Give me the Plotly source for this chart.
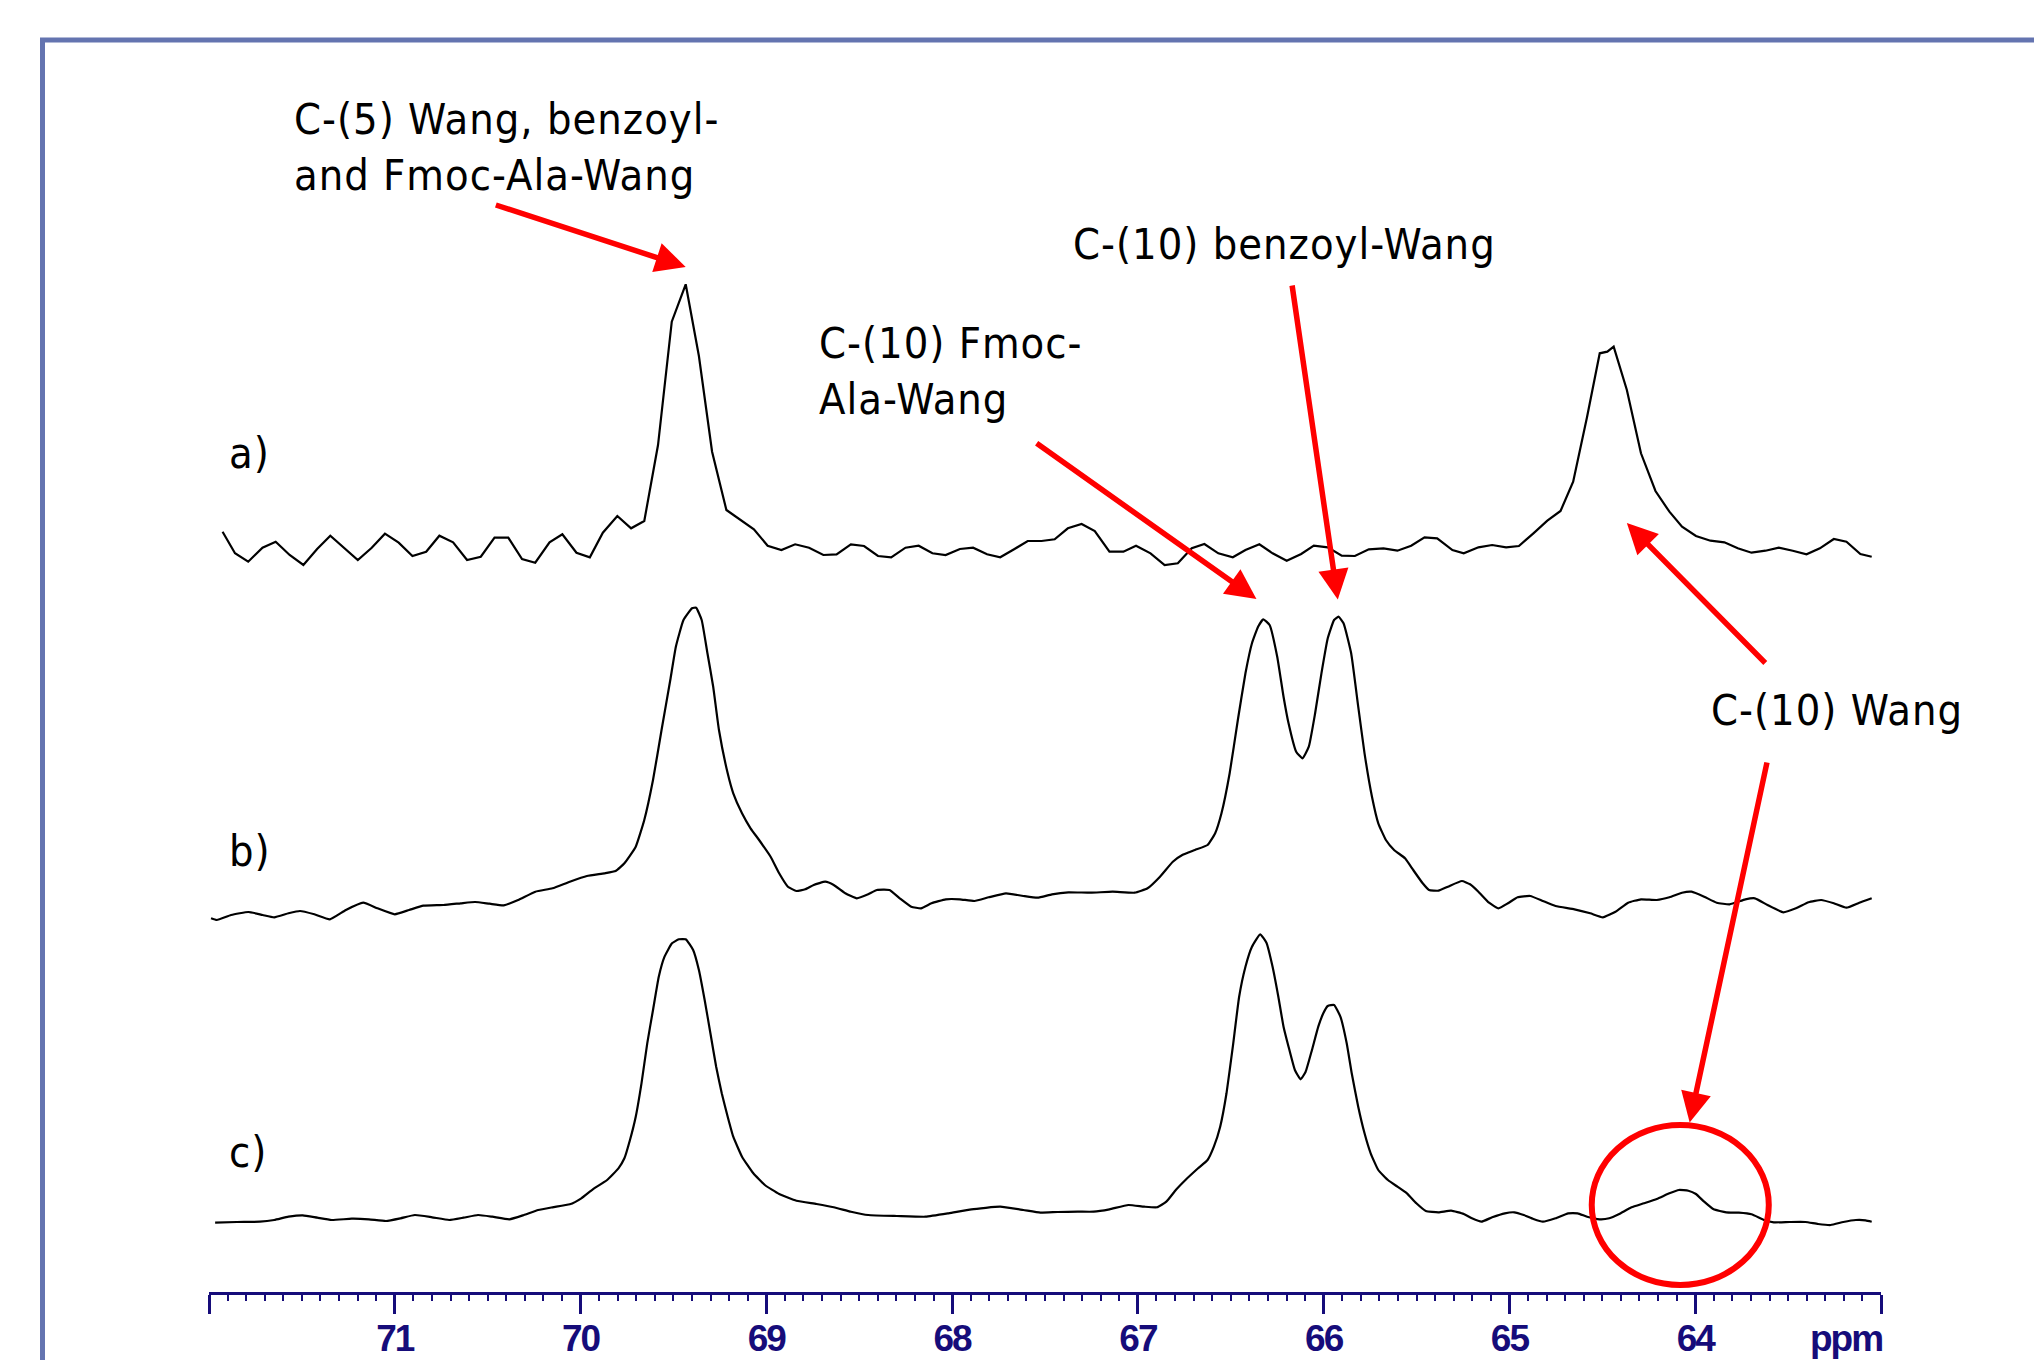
import plotly.graph_objects as go

# ---------------- data ----------------
ppm_a = [71.927, 71.860, 71.789, 71.712, 71.641, 71.566, 71.492, 71.418, 71.347, 71.273,
         71.199, 71.124, 71.053, 70.979, 70.905, 70.831, 70.760, 70.686, 70.611, 70.537,
         70.463, 70.389, 70.315, 70.244, 70.167, 70.098, 70.022, 69.950, 69.880, 69.802,
         69.728, 69.657, 69.583, 69.509, 69.434, 69.363, 69.292, 69.215, 69.141, 69.067,
         68.993, 68.919, 68.845, 68.770, 68.693, 68.622, 68.545, 68.474, 68.399, 68.328,
         68.251, 68.180, 68.106, 68.035, 67.958, 67.887, 67.812, 67.741, 67.664, 67.593,
         67.519, 67.448, 67.377, 67.303, 67.232, 67.153, 67.078, 67.010, 66.932, 66.856,
         66.785, 66.710, 66.642, 66.567, 66.489, 66.421, 66.346, 66.275, 66.199, 66.121,
         66.053, 65.978, 65.903, 65.832, 65.757, 65.678, 65.603, 65.529, 65.457, 65.389,
         65.307, 65.246, 65.167, 65.093, 65.018, 64.949, 64.871, 64.796, 64.725, 64.657,
         64.582, 64.514, 64.473, 64.439, 64.368, 64.292, 64.214, 64.139, 64.071, 63.996,
         63.918, 63.843, 63.771, 63.697, 63.622, 63.550, 63.475, 63.401, 63.329, 63.254,
         63.186, 63.111, 63.050]
int_a = [18.3, -3.3, -11.7, 2.3, 8.3, -5, -15, 1, 14.3, 1.7,
         -10, 2.3, 16.3, 7.3, -6, -1.7, 14.3, 7.7, -10, -6.7,
         12.3, 12.3, -9, -12.7, 7.7, 15.7, -2.7, -7.3, 17.3, 34,
         21.7, 29, 105, 228.3, 265.7, 194, 98.3, 40, 30, 20.7,
         4.3, 0, 5.7, 2.3, -5, -4.3, 5.7, 4, -6, -7.3,
         2.3, 4.3, -3.3, -5, 1, 2.3, -4.3, -7.3, 1, 9,
         9, 10.7, 21.7, 26, 19, -1.7, -1.7, 4.3, -3.3, -15,
         -13.3, 1.7, 6, -3.3, -7.3, 0, 5.7, -3.3, -10.7, -4,
         4.3, 2.7, -5.7, -6, 0.7, 1.7, -0.7, 4.3, 12.7, 11.7,
         0, -3.3, 2.7, 5, 2.7, 4, 16.7, 29.3, 39, 68.3,
         133.3, 196.7, 198.3, 203.3, 160, 96.7, 59, 38.3, 23.3, 14,
         9.3, 7.7, 1.7, -2.7, -0.7, 2.3, -0.7, -4.3, 1.7, 11,
         8.3, -4, -6.7]

ppm_b = [71.989, 71.958, 71.881, 71.788, 71.711, 71.649, 71.572, 71.510, 71.433, 71.349,
         71.263, 71.170, 71.093, 71.000, 70.923, 70.846, 70.738, 70.645, 70.568, 70.490,
         70.413, 70.336, 70.243, 70.151, 70.058, 69.966, 69.872, 69.811, 69.764, 69.703,
         69.657, 69.610, 69.564, 69.517, 69.487, 69.446, 69.400, 69.378, 69.348, 69.317,
         69.286, 69.255, 69.208, 69.178, 69.131, 69.085, 69.039, 68.977, 68.931, 68.884,
         68.838, 68.791, 68.745, 68.683, 68.637, 68.575, 68.513, 68.452, 68.405, 68.337,
         68.282, 68.220, 68.167, 68.111, 68.034, 67.958, 67.880, 67.803, 67.710, 67.617,
         67.540, 67.463, 67.374, 67.255, 67.136, 67.017, 66.948, 66.881, 66.812, 66.761,
         66.693, 66.625, 66.584, 66.550, 66.506, 66.462, 66.421, 66.386, 66.353, 66.325,
         66.291, 66.250, 66.216, 66.189, 66.148, 66.114, 66.080, 66.046, 66.012, 65.978,
         65.944, 65.920, 65.893, 65.852, 65.814, 65.780, 65.740, 65.706, 65.665, 65.621,
         65.562, 65.518, 65.467, 65.433, 65.382, 65.331, 65.256, 65.212, 65.167, 65.110,
         65.059, 65.008, 64.956, 64.888, 64.820, 64.752, 64.650, 64.565, 64.497, 64.429,
         64.361, 64.292, 64.207, 64.139, 64.071, 64.020, 63.952, 63.884, 63.815, 63.730,
         63.679, 63.611, 63.526, 63.458, 63.390, 63.322, 63.254, 63.186, 63.117, 63.050]
int_b = [-13.3, -15, -10, -7, -10, -12.3, -8.3, -6, -9.3, -14.3,
         -5, 2.3, -3.3, -9.3, -5, -0.7, 0, 1.7, 3, 1.3,
         -0.3, 5, 13.3, 16.7, 23.3, 29, 31.7, 34, 41.7, 58.3,
         85, 125, 175, 225, 258.3, 285, 296.7, 297.3, 285, 251.7,
         218.3, 175, 131.7, 111.7, 91.7, 76.7, 65, 48.3, 31.7, 18.3,
         14, 15.7, 20, 23.3, 20, 11.7, 6.7, 10.7, 15, 15,
         6.7, -1.7, -3.3, 1.7, 5.7, 5.7, 4, 7.7, 11.7, 9,
         7.3, 10.7, 12.7, 12.3, 13.3, 12.3, 16.7, 28.3, 43.3, 50,
         55, 60, 71.7, 91.7, 131.7, 185, 231.7, 261.7, 278.3, 285.7,
         280, 248.3, 208.3, 181.7, 153.3, 146.7, 158.3, 191.7, 231.7, 266.7,
         285, 288.3, 281.7, 251.7, 198.3, 151.7, 108.3, 81.7, 65, 55,
         46.7, 35, 21.7, 15, 14.3, 18.3, 24, 20.7, 13.3, 2.3,
         -3.3, 1.7, 7.7, 9, 4, -1, -4.3, -8.3, -12.3, -6.7,
         2.3, 5.7, 5, 7.7, 12.3, 13.3, 8.3, 2.3, 0.7, 5.7,
         6.7, 0, -7.3, -3.3, 2.7, 5, 1.7, -2.7, 2.3, 6.7]

ppm_c = [71.967, 71.850, 71.726, 71.649, 71.572, 71.495, 71.417, 71.340, 71.232, 71.139,
         71.047, 70.969, 70.892, 70.799, 70.707, 70.630, 70.552, 70.475, 70.383, 70.305,
         70.228, 70.151, 70.058, 69.996, 69.934, 69.857, 69.796, 69.764, 69.734, 69.703,
         69.672, 69.641, 69.610, 69.579, 69.548, 69.508, 69.471, 69.434, 69.394, 69.363,
         69.332, 69.301, 69.270, 69.240, 69.208, 69.178, 69.131, 69.070, 69.008, 68.931,
         68.838, 68.730, 68.637, 68.544, 68.452, 68.297, 68.143, 68.019, 67.896, 67.741,
         67.617, 67.525, 67.432, 67.323, 67.238, 67.153, 67.051, 66.966, 66.897, 66.847,
         66.796, 66.744, 66.676, 66.625, 66.591, 66.557, 66.523, 66.489, 66.455, 66.421,
         66.386, 66.342, 66.308, 66.275, 66.244, 66.216, 66.189, 66.155, 66.124, 66.097,
         66.063, 66.029, 66.002, 65.978, 65.944, 65.910, 65.876, 65.849, 65.814, 65.780,
         65.747, 65.706, 65.654, 65.603, 65.552, 65.501, 65.450, 65.382, 65.314, 65.246,
         65.202, 65.151, 65.093, 65.025, 64.974, 64.923, 64.871, 64.820, 64.752, 64.684,
         64.633, 64.582, 64.514, 64.463, 64.412, 64.343, 64.276, 64.207, 64.139, 64.088,
         64.037, 63.996, 63.952, 63.901, 63.833, 63.765, 63.697, 63.629, 63.577, 63.492,
         63.407, 63.339, 63.271, 63.203, 63.135, 63.083, 63.050]
int_c = [-4.7, -4, -3.7, -2, 1.3, 2.7, 0.3, -2, -0.7, -1.3,
         -3, -0.3, 3, 0.7, -2, 0.3, 3, 1.3, -1.3, 3,
         8, 10.7, 13.7, 19.7, 28.7, 38, 49.7, 59.7, 78, 101.3,
         134.7, 174.7, 208, 241.3, 261.3, 274.7, 278.7, 278.7, 268, 248,
         218, 184.7, 151.3, 124.7, 101.3, 81.3, 61.3, 44.7, 33, 24,
         17.3, 14, 10.7, 6.3, 3, 2, 1.3, 4.7, 8.7, 11.3,
         8, 5.3, 6, 6.3, 6.3, 8.7, 13, 11.3, 10.7, 16.3,
         28, 38, 49.7, 58, 71.3, 91.3, 124.7, 171.3, 221.3, 251.3,
         271.3, 283.7, 275.3, 251.3, 221.3, 191.3, 171.3, 148, 138.7, 146.3,
         168, 191.3, 204.7, 212, 213, 201.3, 174.7, 144.7, 111.3, 84.7,
         64.7, 48, 38, 31.3, 24.7, 14.7, 7, 5.7, 7.3, 4,
         -0.3, -3.7, 0.7, 4.7, 5.7, 3, -1, -3.7, -0.3, 4.7,
         4.7, 1.3, -1.3, -0.3, 3.7, 10.7, 14.7, 19, 24.7, 28,
         27.3, 24, 16.3, 8.7, 5.7, 5.3, 3.7, -2, -4.3, -4,
         -4, -6, -7, -4, -2, -2.3, -3.7]

major_ticks = [71, 70, 69, 68, 67, 66, 65, 64]
tick_labels = ["71", "70", "69", "68", "67", "66", "65", "64"]
axis_unit = "ppm"

# ---------------- layout / styling ----------------
# The page has the browser's default 8px body margin, so the figure is made
# slightly smaller and everything is placed 8px up/left of the reference pixels.
W, H = 2034, 1352
ML, MR, MT, MB = 201, 161, 0, 68
PLOT_H = H - MT - MB            # 1284
PLOT_W = W - ML - MR            # 1672
X_RANGE = [72.0, 63.0]
Y_RANGE = [0, PLOT_H]
OFFSETS = {"a": 742, "b": 387, "c": 74}

NAVY = "#160c7a"
RED = "#ff0000"
FRAME = "#6474b0"
LABEL_FONT = "Liberation Sans Narrow, Arial Narrow, DejaVu Sans Condensed, Liberation Sans, Arial, sans-serif"
TICK_FONT = "Liberation Sans, Arial, sans-serif"


def tight(t, sp=-2):
    return f'<span style="letter-spacing:{sp}px">{t}</span>'


fig = go.Figure()
for ppm, inten, key, shape in [(ppm_a, int_a, "a", "linear"),
                               (ppm_b, int_b, "b", "spline"),
                               (ppm_c, int_c, "c", "spline")]:
    fig.add_trace(go.Scatter(
        x=ppm, y=[v + OFFSETS[key] for v in inten], mode="lines",
        line=dict(color="black", width=2.2, shape=shape, smoothing=0.4),
        hoverinfo="skip", showlegend=False))

minor_vals = [v for v in (round(63 + 0.1 * i, 1) for i in range(1, 90))
              if abs(v - round(v)) > 1e-6]

fig.update_layout(
    width=W, height=H,
    margin=dict(l=ML, r=MR, t=MT, b=MB, pad=0),
    plot_bgcolor="white", paper_bgcolor="white",
    showlegend=False,
    xaxis=dict(
        range=X_RANGE, autorange=False, showgrid=False, zeroline=False,
        showline=True, linecolor=NAVY, linewidth=2.5,
        ticks="outside", ticklen=19, tickwidth=2.5, tickcolor=NAVY,
        tickmode="array", tickvals=[72.0] + major_ticks + [63.0],
        ticktext=[""] + [tight(t) for t in tick_labels] + [""],
        tickfont=dict(family=TICK_FONT, size=37, color=NAVY, weight="bold"),
        ticklabelstandoff=-7,
        minor=dict(tickmode="array", tickvals=minor_vals, ticks="outside",
                   ticklen=6, tickwidth=2, tickcolor=NAVY, showgrid=False),
    ),
    yaxis=dict(range=Y_RANGE, autorange=False, visible=False, fixedrange=True),
)

# frame (partly outside the page, like the reference)
fig.add_shape(type="rect", xref="paper", yref="paper",
              x0=(34.5 - ML) / PLOT_W, x1=1.4,
              y0=-0.3, y1=(PLOT_H - 32) / PLOT_H,
              line=dict(color=FRAME, width=5), fillcolor="rgba(0,0,0,0)", layer="below")


def spaced(t, sp=1.0):
    return "<br>".join(f'<span style="letter-spacing:{sp}px">{ln}</span>' for ln in t.split("\n"))


labels = [
    ("C-(5) Wang, benzoyl-\nand Fmoc-Ala-Wang", 71.551, 1145),
    ("C-(10) benzoyl-Wang", 67.358, 1048),
    ("C-(10) Fmoc-\nAla-Wang", 68.726, 921),
    ("C-(10) Wang", 63.924, 582),
    ("a)", 71.901, 839),
    ("b)", 71.901, 441),
    ("c)", 71.901, 140),
]
for txt, x, y in labels:
    fig.add_annotation(x=x, y=y, xref="x", yref="y", text=spaced(txt),
                       showarrow=False, xanchor="left", yanchor="middle", align="left",
                       font=dict(family=LABEL_FONT, size=43, color="black"))

fig.add_annotation(x=63.188, y=-46 / PLOT_H, xref="x", yref="paper", text=tight(axis_unit),
                   showarrow=False, xanchor="center", yanchor="middle",
                   font=dict(family=TICK_FONT, size=37, color=NAVY, weight="bold"))

# arrows: (head ppm, head y, tail ppm, tail y)
arrows = [
    (69.434, 1025, 70.464, 1087.5),
    (66.362, 693, 67.553, 849.7),
    (65.924, 692.5, 66.171, 1008),
    (64.368, 769, 63.615, 627.5),
    (64.030, 169.4, 63.612, 531),
]
for hx, hy, tx, ty in arrows:
    fig.add_annotation(x=hx, y=hy, ax=tx, ay=ty, xref="x", yref="y", axref="x", ayref="y",
                       text="", showarrow=True, arrowhead=2, arrowsize=1.1,
                       arrowwidth=5.5, arrowcolor=RED, standoff=0)

# circle around the small C-(10) Wang signal in c)
fig.add_shape(type="circle", xref="x", yref="y", x0=64.557, x1=63.604, y0=7, y1=167,
              line=dict(color=RED, width=6))

fig.write_html("out.html")
